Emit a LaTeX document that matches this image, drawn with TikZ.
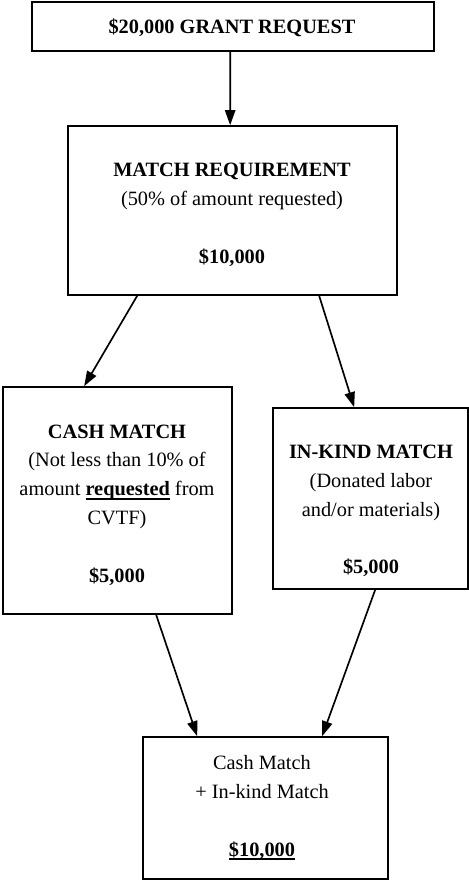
\documentclass[tikz,border=0pt]{standalone}
\usepackage{fontspec}
\setmainfont{Liberation Serif}
\usetikzlibrary{arrows.meta,calc}
\newcommand\ulbox[1]{\setbox0\hbox{#1}\rlap{\rule[-2.6pt]{\wd0}{1.2pt}}\box0\relax}
\begin{document}
\begin{tikzpicture}[x=0.6pt,y=-0.6pt,
  box/.style={draw,line width=1pt,rectangle,inner sep=0pt},
  txt/.style={align=center,inner sep=0pt,font=\fontsize{12.2}{17.3}\selectfont},
  arr/.style={line width=1pt,-{Triangle[length=9pt,width=6.2pt]}}]
\useasboundingbox (0,0) rectangle (469,890);
% boxes
\node[box,minimum width=241.2pt,minimum height=29.4pt] (b1) at (233,26.5) {};
\node[box,minimum width=197.4pt,minimum height=101.4pt] (b2) at (232.5,210.5) {};
\node[box,minimum width=137.4pt,minimum height=136.2pt] (b3) at (117.5,500.5) {};
\node[box,minimum width=117pt,minimum height=108.6pt] (b4) at (370.5,498.5) {};
\node[box,minimum width=147pt,minimum height=85.2pt] (b5) at (265.5,808) {};
% texts
\node[txt] (t1) at (232,27.5) {\textbf{\$20,000 GRANT REQUEST}};
\node[txt] (t2) at (232,215) {\textbf{MATCH REQUIREMENT}\\(50\% of amount requested)\\[17.3pt]\textbf{\$10,000}};
\node[txt] (t3) at (117,505) {\textbf{CASH MATCH}\\(Not less than 10\% of\\amount \ulbox{\textbf{requested}} from\\CVTF)\\[17.3pt]\textbf{\$5,000}};
\node[txt] (t4) at (371,511) {\textbf{IN-KIND MATCH}\\(Donated labor\\and/or materials)\\[17.3pt]\textbf{\$5,000}};
\node[txt] (t5) at (262,808) {Cash Match\\+ In-kind Match\\[17.3pt]\ulbox{\textbf{\$10,000}}};
% arrows
\draw[arr] ($(b1.south west)+(199,0)$) -- ($(b2.north west)+(163,0)$);
\draw[arr] ($(b2.south west)+(70,0)$) -- ($(b3.north west)+(82,0)$);
\draw[arr] ($(b2.south west)+(252,0)$) -- ($(b4.north west)+(82,0)$);
\draw[arr] ($(b3.south west)+(154,0)$) -- ($(b5.north west)+(55,0)$);
\draw[arr] ($(b4.south west)+(103,0)$) -- ($(b5.north west)+(180,0)$);
\end{tikzpicture}
\end{document}
